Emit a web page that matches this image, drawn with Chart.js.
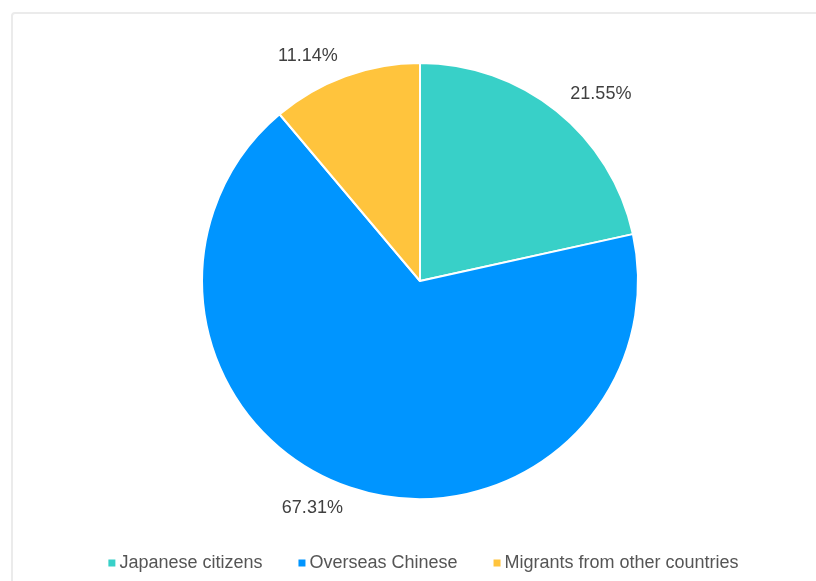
<!DOCTYPE html>
<html>
<head>
<meta charset="utf-8">
<script src="https://cdn.jsdelivr.net/npm/chart.js@4"></script>
<style>
  html, body { margin: 0; padding: 0; background: #fff; overflow: hidden; }
  .frame { position: absolute; left: 11px; top: 12px; width: 900px; height: 700px;
           border: 2px solid #ebebeb; border-radius: 4px; }
  canvas { position: absolute; left: 0; top: 0; }
</style>
</head>
<body>
<div class="frame"></div>
<canvas id="pieChart" width="816" height="581"></canvas>
<script>
// Data
const categories = ['Japanese citizens', 'Overseas Chinese', 'Migrants from other countries'];
const shares = [21.55, 67.31, 11.14];
const sliceColors = ['#38d0c8', '#0095ff', '#ffc43d'];

const labelFont = '18px "Liberation Sans", Arial, sans-serif';

// Percent labels just outside each slice
const outsideLabels = {
    id: 'outsideLabels',
    afterDatasetsDraw(chart) {
        const ctx = chart.ctx;
        const meta = chart.getDatasetMeta(0);
        ctx.save();
        ctx.font = labelFont;
        ctx.fillStyle = '#404040';
        ctx.textBaseline = 'middle';
        meta.data.forEach(function(arc, i) {
            const p = arc.getProps(['x', 'y', 'startAngle', 'endAngle', 'outerRadius'], true);
            const mid = (p.startAngle + p.endAngle) / 2;
            const r = p.outerRadius + 22;
            ctx.textAlign = Math.cos(mid) >= 0 ? 'left' : 'right';
            ctx.fillText(shares[i].toFixed(2) + '%', p.x + Math.cos(mid) * r, p.y + Math.sin(mid) * r);
        });
        ctx.restore();
    }
};

// Legend row at the bottom (small squares, tight gap)
const bottomLegend = {
    id: 'bottomLegend',
    afterDraw(chart) {
        const ctx = chart.ctx;
        const colors = chart.data.datasets[0].backgroundColor;
        const box = 7, gap = 4, spacing = 36, y = 563;
        ctx.save();
        ctx.font = labelFont;
        ctx.textBaseline = 'middle';
        ctx.textAlign = 'left';
        const widths = chart.data.labels.map(function(t) { return box + gap + ctx.measureText(t).width; });
        const total = widths.reduce(function(a, b) { return a + b; }, 0) + spacing * (widths.length - 1);
        let x = 423.5 - total / 2;
        chart.data.labels.forEach(function(t, i) {
            ctx.fillStyle = colors[i];
            ctx.fillRect(x, y - box / 2, box, box);
            ctx.fillStyle = '#555555';
            ctx.fillText(t, x + box + gap, y);
            x += widths[i] + spacing;
        });
        ctx.restore();
    }
};

const ctx = document.getElementById('pieChart').getContext('2d');
const pieChart = new Chart(ctx, {
    type: 'pie',
    data: {
        labels: categories,
        datasets: [{
            data: shares,
            backgroundColor: sliceColors,
            borderColor: '#ffffff',
            borderWidth: 2,
            radius: 218
        }]
    },
    options: {
        responsive: false,
        animation: false,
        layout: {
            padding: { top: 0, left: 24, right: 0, bottom: 19 }
        },
        plugins: {
            tooltip: { enabled: false },
            legend: { display: false }
        }
    },
    plugins: [outsideLabels, bottomLegend]
});
</script>
</body>
</html>
